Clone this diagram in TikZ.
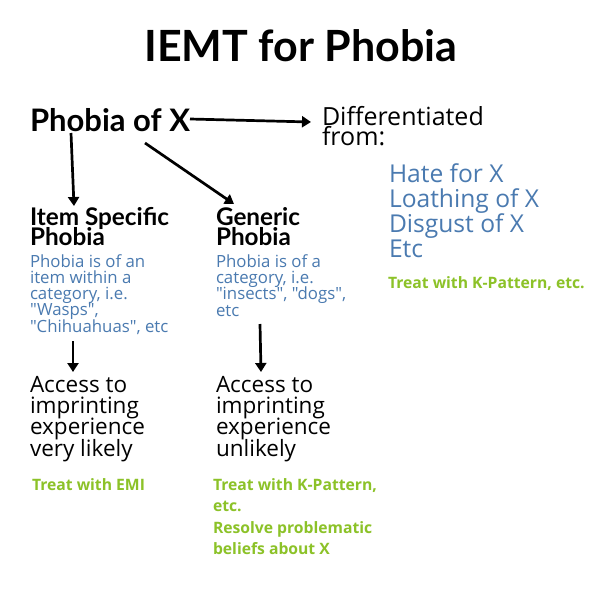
\documentclass[tikz,border=0pt]{standalone}
\usepackage{fontspec}
\setmainfont{Open Sans}[Ligatures=TeXOff]
\newfontfamily\hfont{Lato}
\usetikzlibrary{arrows.meta,calc}
\definecolor{blu}{RGB}{74,122,176}
\definecolor{grn}{RGB}{140,194,40}
\newcommand\fsz[2]{\fontsize{#1}{#2}\selectfont\lineskiplimit=-20pt\relax}
\begin{document}
\begin{tikzpicture}[x=1pt,y=-1pt, inner sep=0pt, outer sep=0pt,
  arr/.style={line width=2.7pt, -{Triangle[length=9pt,width=11pt]}},
  txt/.style={anchor=base west, align=left},
  head/.style={txt, font=\hfont\bfseries\fsz{24.3}{19.5}},
  desc/.style={txt, text=blu, font=\fsz{16.8}{16.2}},
  acc/.style={txt, font=\fsz{22.5}{21.2}},
  treat/.style={txt, text=grn, font=\bfseries\fsz{15.7}{21.5}}]
\useasboundingbox (0,0) rectangle (600,600);
\fill[white] (0,0) rectangle (600,600);
\node[anchor=base, font=\hfont\bfseries\fsz{43}{50}] (title) at (301,61) {IEMT for Phobia};
\node[txt, font=\hfont\bfseries\fsz{31}{36}] (phobia) at (30,131) {Phobia of X};
\node[txt, font=\fsz{25}{20}] (diff) at (322,145) {Differentiated\\from:};
\node[txt, text=blu, font=\fsz{24.6}{24.7}] (hate) at (389,257) {Hate for X\\Loathing of X\\Disgust of X\\Etc};
\node[treat] (treatR) at (388,288) {Treat with K-Pattern, etc.};
\node[head] (item) at (30,245) {Item Specific\\Phobia};
\node[head] (gen) at (216,245) {Generic\\Phobia};
\node[desc] (itemd) at (30,332) {Phobia is of an\\item within a\\category, i.e.\\"Wasps",\\"Chihuahuas", etc};
\node[desc] (gend) at (216,316) {Phobia is of a\\category, i.e.\\"insects", "dogs",\\etc};
\node[acc] (acc1) at (30,456) {Access to\\imprinting\\experience\\very likely};
\node[acc] (acc2) at (216,456) {Access to\\imprinting\\experience\\unlikely};
\node[treat] (treat1) at (32,490) {Treat with EMI};
\node[treat] (treat2) at (213,554.5) {Treat with K-Pattern,\\etc.\\Resolve problematic\\beliefs about X};
\draw[arr] ($(phobia.base west)+(160,-12)$) -- ($(diff.base west)+(-11,-23)$);
\draw[arr] ($(phobia.base west)+(41,2)$) -- ($(item.base west)+(44,-39)$);
\draw[arr] ($(phobia.base west)+(115,12)$) -- ($(gen.base west)+(18,-41)$);
\draw[arr] ($(itemd.base west)+(43,9)$) -- ($(acc1.base west)+(43,-84)$);
\draw[arr] ($(gend.base west)+(44,8)$) -- ($(acc2.base west)+(45,-84)$);
\end{tikzpicture}
\end{document}
